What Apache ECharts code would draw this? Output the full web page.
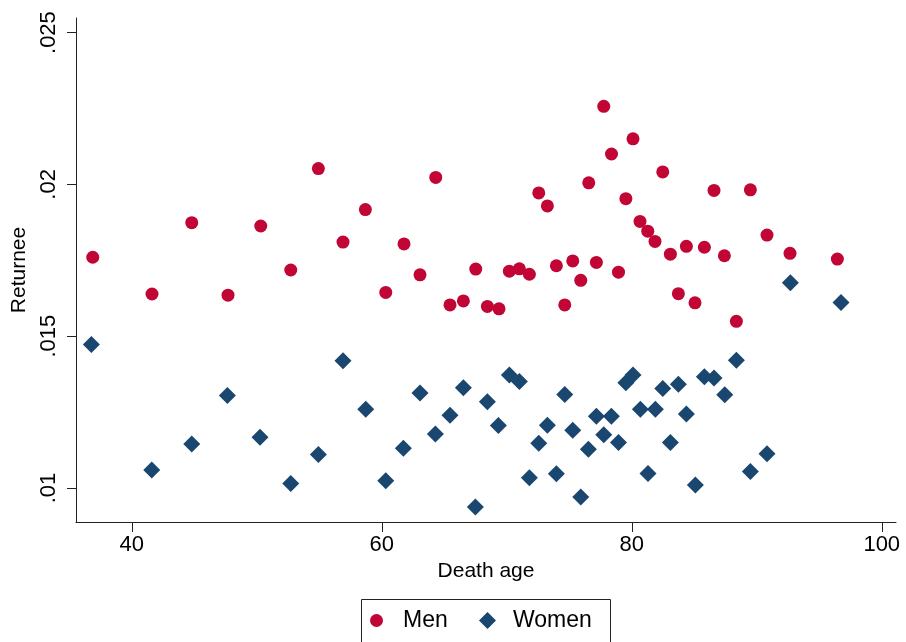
<!DOCTYPE html>
<html>
<head>
<meta charset="utf-8">
<title>Returnee by death age</title>
<script src="https://cdn.jsdelivr.net/npm/echarts@6/dist/echarts.min.js"></script>
<style>
    html, body { margin: 0; padding: 0; background: #fff; }
    #main { width: 906px; height: 642px; }
</style>
</head>
<body>
<div id="main"></div>
<script>
    // values
    var menAge = [36.88, 41.62, 44.80, 47.70, 50.32, 52.72, 54.93, 56.90, 58.69, 60.32,
        61.78, 63.06, 64.32, 65.46, 66.53, 67.52, 68.45, 69.38, 70.21, 71.01,
        71.81, 72.56, 73.25, 73.97, 74.64, 75.28, 75.92, 76.56, 77.17, 77.76,
        78.38, 78.94, 79.53, 80.10, 80.66, 81.28, 81.86, 82.48, 83.09, 83.73,
        84.37, 85.06, 85.81, 86.58, 87.41, 88.37, 89.49, 90.82, 92.66, 96.45];
    var menVal = [0.01760, 0.01639, 0.01874, 0.01635, 0.01863, 0.01718, 0.02052, 0.01810, 0.01917, 0.01644,
        0.01804, 0.01702, 0.02023, 0.01603, 0.01616, 0.01721, 0.01598, 0.01590, 0.01714, 0.01722,
        0.01704, 0.01972, 0.01929, 0.01732, 0.01603, 0.01748, 0.01684, 0.02005, 0.01743, 0.02257,
        0.02100, 0.01711, 0.01953, 0.02150, 0.01878, 0.01846, 0.01812, 0.02041, 0.01770, 0.01640,
        0.01796, 0.01610, 0.01793, 0.01980, 0.01765, 0.01549, 0.01982, 0.01833, 0.01773, 0.01754];
    var womenAge = [36.77, 41.60, 44.80, 47.65, 50.26, 52.72, 54.93, 56.90, 58.72, 60.32,
        61.73, 63.06, 64.29, 65.46, 66.53, 67.49, 68.45, 69.33, 70.21, 71.01,
        71.81, 72.56, 73.25, 73.97, 74.64, 75.28, 75.92, 76.53, 77.17, 77.76,
        78.37, 78.94, 79.53, 80.10, 80.69, 81.30, 81.89, 82.48, 83.09, 83.73,
        84.37, 85.09, 85.81, 86.58, 87.44, 88.37, 89.49, 90.82, 92.69, 96.74];
    var womenVal = [0.01473, 0.01059, 0.01145, 0.01305, 0.01167, 0.01015, 0.01110, 0.01419, 0.01259, 0.01024,
        0.01131, 0.01313, 0.01178, 0.01240, 0.01330, 0.00937, 0.01284, 0.01206, 0.01372, 0.01351,
        0.01034, 0.01147, 0.01207, 0.01047, 0.01308, 0.01190, 0.00970, 0.01128, 0.01236, 0.01175,
        0.01236, 0.01150, 0.01347, 0.01372, 0.01259, 0.01048, 0.01259, 0.01328, 0.01150, 0.01342,
        0.01244, 0.01010, 0.01366, 0.01362, 0.01307, 0.01421, 0.01054, 0.01113, 0.01676, 0.01611];
    var xTicks = [40, 60, 80, 100];
    var yTicks = [0.01, 0.015, 0.02, 0.025];

    var font = 'Liberation Sans, Arial, Helvetica, sans-serif';

    function pairs(xs, ys) {
        return xs.map(function (x, i) { return [x, ys[i]]; });
    }

    var chart = echarts.init(document.getElementById('main'));
    var option = {
        backgroundColor: '#fff',
        animation: false,
        grid: {
            left: 76,
            right: 10,
            top: 18,
            bottom: 120,
            containLabel: false,
            outerBoundsMode: 'none'
        },
        xAxis: {
            type: 'value',
            min: 35.54,
            max: 101.14,
            name: 'Death age',
            nameLocation: 'middle',
            nameGap: 38,
            nameTextStyle: { color: '#000', fontSize: 21, fontFamily: font },
            axisLine: { show: true, lineStyle: { color: '#222', width: 1 } },
            axisTick: { show: true, length: 10, customValues: xTicks, lineStyle: { color: '#222' } },
            axisLabel: { customValues: xTicks, margin: 12, color: '#000', fontSize: 22, fontFamily: font },
            splitLine: { show: false }
        },
        yAxis: {
            type: 'value',
            min: 0.00888,
            max: 0.02548,
            name: 'Returnee',
            nameLocation: 'middle',
            nameGap: 42,
            nameTextStyle: { color: '#000', fontSize: 21, fontFamily: font },
            axisLine: { show: true, lineStyle: { color: '#222', width: 1 } },
            axisTick: { show: true, length: 9, customValues: yTicks, lineStyle: { color: '#222' } },
            axisLabel: {
                customValues: yTicks,
                rotate: 90,
                margin: 16,
                color: '#000',
                fontSize: 22,
                fontFamily: font,
                formatter: function (v) { return String(v).replace('0.', '.'); }
            },
            splitLine: { show: false }
        },
        // two legends so each marker keeps its own size
        legend: [{
            data: ['Men'],
            icon: 'circle',
            left: 370,
            top: 609,
            padding: 0,
            itemWidth: 13,
            itemHeight: 13,
            textStyle: { color: '#000', fontSize: 23, fontFamily: font, padding: [0, 0, 0, 15] }
        }, {
            data: ['Women'],
            icon: 'diamond',
            left: 479,
            top: 609,
            padding: 0,
            itemWidth: 17,
            itemHeight: 17,
            textStyle: { color: '#000', fontSize: 23, fontFamily: font, padding: [0, 0, 0, 12] }
        }],
        graphic: [{
            type: 'rect',
            shape: { x: 361.5, y: 599.5, width: 249, height: 44 },
            style: { fill: 'none', stroke: '#222', lineWidth: 1 },
            silent: true
        }],
        series: [{
            name: 'Men',
            type: 'scatter',
            symbol: 'circle',
            symbolSize: 13,
            itemStyle: { color: '#c10534', opacity: 1 },
            data: pairs(menAge, menVal)
        }, {
            name: 'Women',
            type: 'scatter',
            symbol: 'diamond',
            symbolSize: 17,
            itemStyle: { color: '#1a476f', opacity: 1 },
            data: pairs(womenAge, womenVal)
        }]
    };
    chart.setOption(option);
</script>
</body>
</html>
